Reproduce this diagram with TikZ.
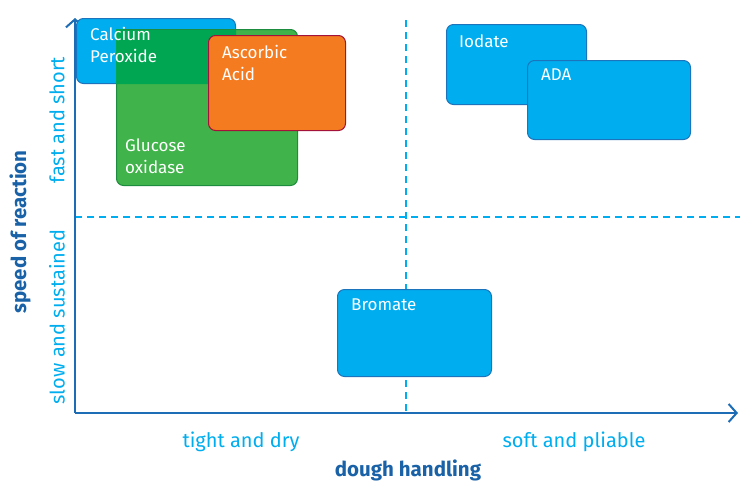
\documentclass[tikz,border=0pt]{standalone}
\usepackage{fontspec}
\setmainfont{Fira Sans}
\usetikzlibrary{arrows.meta,positioning}
\definecolor{cyanbox}{HTML}{00AEEF}
\definecolor{cyanline}{HTML}{1C75BC}
\definecolor{axisblue}{HTML}{1C6DB5}
\definecolor{titleblue}{HTML}{1A62A8}
\definecolor{leafgreen}{HTML}{40B34A}
\definecolor{leafline}{HTML}{1E8C3E}
\definecolor{deepgreen}{HTML}{00A651}
\definecolor{citrus}{HTML}{F47B20}
\definecolor{citrusline}{HTML}{A3123A}

\tikzset{
  box/.style={rounded corners=7pt, line width=1pt, anchor=north west, inner sep=0pt},
  bluebox/.style={box, fill=cyanbox, draw=cyanline},
  greenbox/.style={box, fill=leafgreen, draw=leafline},
  orangebox/.style={box, fill=citrus, draw=citrusline},
  lbl/.style={anchor=north west, white, font=\fontsize{17}{22}\selectfont, align=left, inner sep=0pt},
  cat/.style={cyanbox, font=\fontsize{20}{24}\selectfont},
  title/.style={titleblue, font=\fontsize{20.5}{24}\selectfont\bfseries},
  axis/.style={axisblue, line width=2pt, -{Straight Barb[length=8pt,width=18pt]}},
  divider/.style={cyanbox, line width=1.6pt, dash pattern=on 7pt off 5pt}
}

\begin{document}
\begin{tikzpicture}[x=1pt,y=-1pt]
  \useasboundingbox[fill=white] (0,0) rectangle (752,491);

  % Axes
  \coordinate (origin) at (75,413);
  \coordinate (ytop) at (75,18);
  \coordinate (xend) at (738,413);
  \coordinate (vtop) at (406,20);
  \coordinate (vbot) at (406,413);
  \coordinate (hleft) at (75,217);
  \coordinate (hright) at (740,217);

  \draw[divider] (vtop) -- (vbot);
  \draw[divider] (hleft) -- (hright);
  \draw[axis] (origin) -- (ytop);
  \draw[axis] (origin) -- (xend);

  % Boxes
  \node[bluebox, minimum width=159pt, minimum height=65pt] (calcium) at (76,18) {};
  \node[greenbox, minimum width=181pt, minimum height=156pt] (glucose) at (116,29) {};
  \begin{scope}
    \clip[rounded corners=7pt] (calcium.north west) rectangle (calcium.south east);
    \fill[deepgreen] (glucose.north west) rectangle (glucose.south east);
  \end{scope}
  \draw[leafline, line width=1pt] ([xshift=7pt]glucose.north west) -- ([xshift=-7pt]glucose.north east);
  \node[orangebox, minimum width=137pt, minimum height=95pt] (ascorbic) at (208,35) {};

  \node[bluebox, minimum width=140pt, minimum height=80pt] (iodate) at (446,24) {};
  \node[bluebox, minimum width=163pt, minimum height=79pt] (ada) at (527,60) {};
  \node[bluebox, minimum width=154pt, minimum height=87pt] (bromate) at (337,289) {};

  % Box texts
  \node[lbl] (calciumtxt) at (90,27) {Calcium\\Peroxide};
  \node[lbl] (glucosetxt) at (125,139) {Glucose\\oxidase};
  \node[lbl] (ascorbictxt) at (222,45) {Ascorbic\\Acid};
  \node[lbl] (iodatetxt) at (459,35) {Iodate};
  \node[lbl] (adatxt) at (541,69) {ADA};
  \node[lbl] (bromatetxt) at (351,299) {Bromate};

  % Axis texts
  \node[cat] (tight) at (241,442) {tight and dry};
  \node[cat] (soft) at (574,442) {soft and pliable};
  \node[title] (dough) at (408,470) {dough handling};
  \node[cat, rotate=90] (fast) at (57,120) {fast and short};
  \node[cat, rotate=90] (slow) at (57,317) {slow and sustained};
  \node[title, rotate=90] (speed) at (20,232) {speed of reaction};
\end{tikzpicture}
\end{document}
